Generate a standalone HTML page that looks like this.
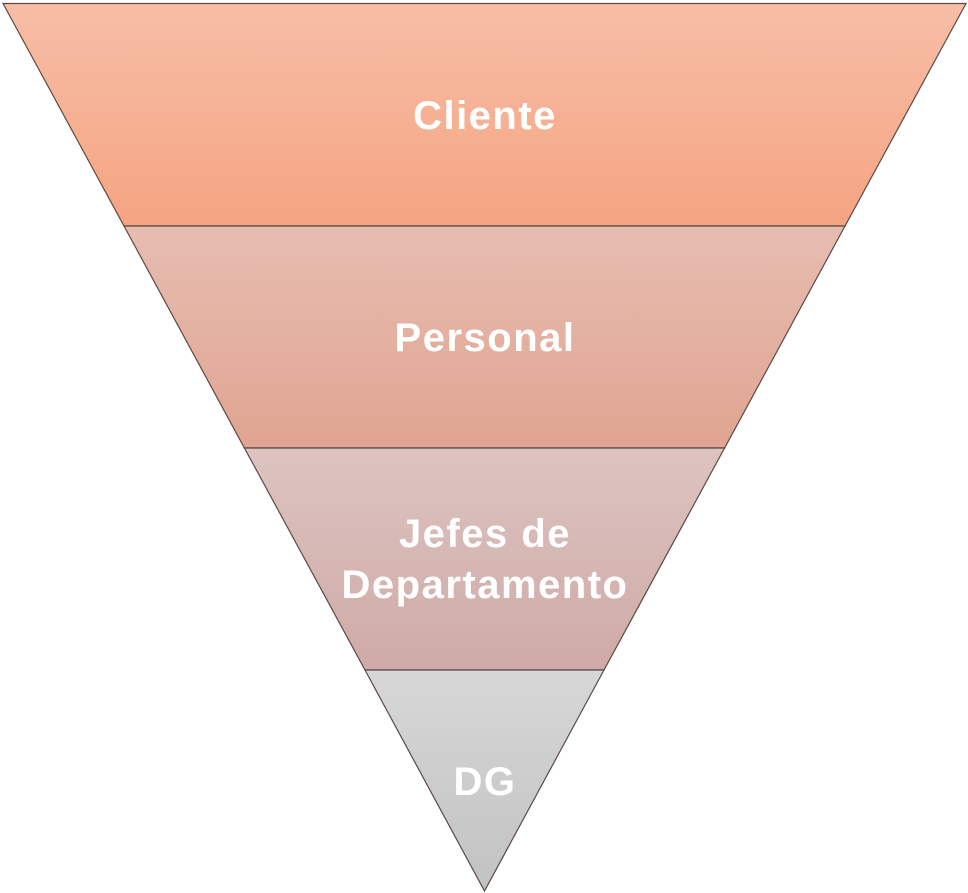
<!DOCTYPE html>
<html><head><meta charset="utf-8"><style>
html,body{margin:0;padding:0;background:#fff;}
svg{display:block;}
text{font-family:"Liberation Sans",sans-serif;font-weight:bold;fill:#fff;font-size:40px;letter-spacing:1.5px;text-anchor:middle;}
</style></head><body>
<svg width="968" height="893" viewBox="0 0 968 893">
<defs>
<linearGradient id="g1" x1="0" y1="0" x2="0" y2="1"><stop offset="0" stop-color="#f7bea6"/><stop offset="1" stop-color="#f5a482"/></linearGradient>
<linearGradient id="g2" x1="0" y1="0" x2="0" y2="1"><stop offset="0" stop-color="#e7bdb1"/><stop offset="1" stop-color="#e0a491"/></linearGradient>
<linearGradient id="g3" x1="0" y1="0" x2="0" y2="1"><stop offset="0" stop-color="#dcc4c1"/><stop offset="1" stop-color="#cfaaa6"/></linearGradient>
<linearGradient id="g4" x1="0" y1="0" x2="0" y2="1"><stop offset="0" stop-color="#d7d7d7"/><stop offset="1" stop-color="#c2c2c2"/></linearGradient>
</defs>
<g stroke="#5a4a45" stroke-width="1.2">
<polygon points="3,3.5 966,3.5 845,226 124,226" fill="url(#g1)"/>
<polygon points="124,226 845,226 724.6,448 244.4,448" fill="url(#g2)"/>
<polygon points="244.4,448 724.6,448 604,670 365,670" fill="url(#g3)"/>
<polygon points="365,670 604,670 484.5,891" fill="url(#g4)"/>
</g>
<text x="485" y="129">Cliente</text>
<text x="485" y="351">Personal</text>
<text x="485" y="547">Jefes de</text>
<text x="485" y="598">Departamento</text>
<text x="485" y="795">DG</text>
</svg>
</body></html>
